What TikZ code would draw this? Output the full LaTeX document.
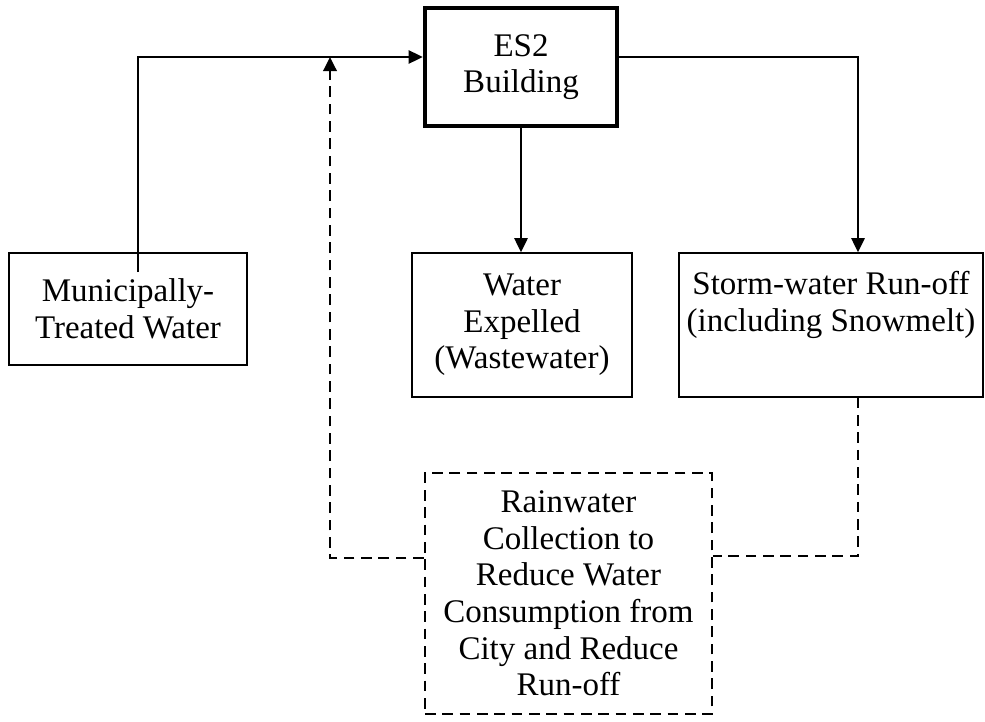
\documentclass[tikz,border=0pt]{standalone}
\usepackage{fontspec}
\setmainfont{Liberation Serif}
\usetikzlibrary{arrows.meta}
\begin{document}
\begin{tikzpicture}[x=0.75pt,y=-0.75pt,
  box/.style={draw, line width=1.2pt, align=center, inner sep=0pt,
    font=\fontsize{24.75}{27.5}\selectfont},
  thickbox/.style={box, line width=3.5pt},
  dashbox/.style={box, line width=1.8pt, dash pattern=on 8pt off 5pt},
  conn/.style={line width=1.2pt},
  arr/.style={conn, -{Triangle[length=10.5pt,width=10pt]}},
  dconn/.style={line width=1.8pt, dash pattern=on 8pt off 5pt},
  darr/.style={dconn, -{Triangle[length=10.5pt,width=10pt]}}]
\useasboundingbox (0,0) rectangle (985,721);

\node[thickbox, minimum width=144pt, minimum height=88.5pt] (es2) at (521,67) {ES2\\Building};
\node[box, minimum width=178.5pt, minimum height=84pt] (muni) at (128,309) {Municipally-\\Treated Water};
\node[box, minimum width=165pt, minimum height=108pt] (water) at (522,325) {Water\\Expelled\\(Wastewater)};
\node[box, minimum width=228pt, minimum height=108pt] (storm) at (831,325) {Storm-water Run-off\\(including Snowmelt)\\\strut};
\node[dashbox, minimum width=215.25pt, minimum height=180.75pt] (rain) at (568.5,593.5) {Rainwater\\Collection to\\Reduce Water\\Consumption from\\City and Reduce\\Run-off};

\coordinate (mstart) at (138,272);
\coordinate (dturn) at (330,57);
\coordinate (sturn) at (858,57);

\draw[arr] (mstart) |- (es2.west |- dturn);
\draw[arr] (es2.south) -- (es2.south |- water.north);
\draw[arr] (es2.east |- sturn) -- (sturn) -- (sturn |- storm.north);
\draw[dconn] (sturn |- storm.south) |- (rain.east |- 0,556);
\draw[darr] (rain.west |- 0,558) -| (dturn);
\end{tikzpicture}
\end{document}
